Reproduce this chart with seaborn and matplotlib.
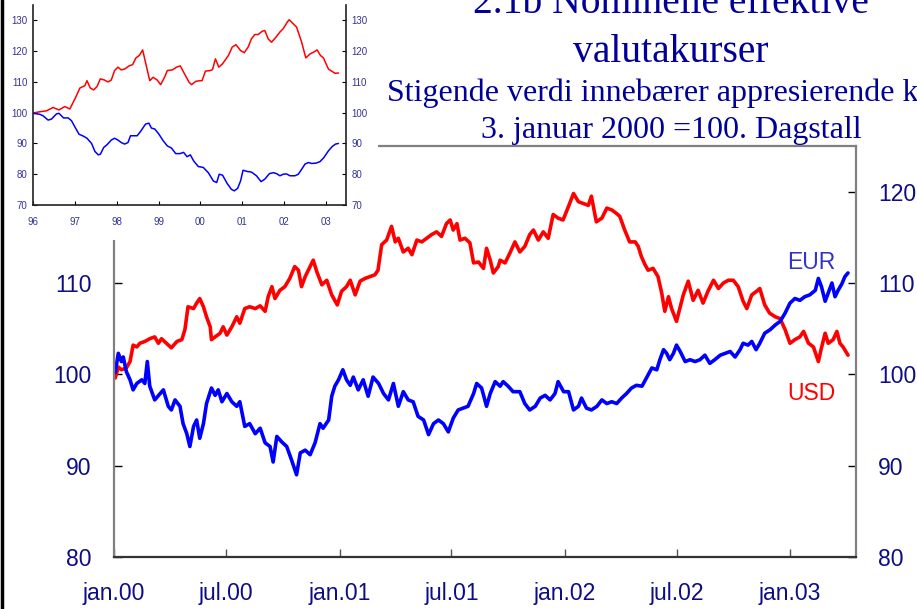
import matplotlib
matplotlib.use("Agg")
import matplotlib.pyplot as plt
from matplotlib.lines import Line2D
from matplotlib.patches import Rectangle
import seaborn as sns
import pandas as pd

# hoveddiagram: dager etter 1. januar 2000 og indeksverdier (3. jan 2000 = 100)
usd_days = [2, 7, 12, 20, 26, 31, 37, 42, 50, 58, 66, 72, 77, 85, 93, 102, 110, 115, 120, 129,
            134, 139, 145, 150, 156, 158, 164, 172, 177, 183, 191, 199, 204, 212, 220, 229, 237, 245, 250, 256,
            261, 269, 277, 285, 293, 299, 304, 310, 315, 323, 329, 337, 345, 353, 362, 369, 377, 383, 391, 399,
            407, 415, 423, 428, 434, 442, 450, 456, 461, 469, 477, 483, 491, 499, 507, 515, 523, 531, 539, 545,
            550, 556, 561, 569, 577, 583, 591, 599, 604, 610, 615, 623,
            626, 634, 642, 650, 658, 666, 674, 680, 688, 696, 704, 712, 720, 728, 737, 745, 753, 761, 769, 774,
            782, 791, 799, 807, 815, 820, 828, 836, 845, 850, 855, 861, 866, 874, 882, 888, 893, 899, 904, 912,
            918, 923, 931, 939, 947, 955, 963, 972, 980, 988, 996, 1004, 1012, 1020, 1026, 1034, 1042, 1047, 1055, 1063,
            1072, 1080, 1088, 1096, 1104, 1112, 1118, 1126, 1134, 1142, 1147, 1153, 1158, 1166, 1172, 1177, 1182, 1190]
usd_vals = [99.6, 100.8, 100.5, 100.7, 101.4, 103.2, 103.0, 103.4, 103.6, 103.9,
            104.1, 103.4, 103.9, 103.4, 102.9, 103.6, 103.8, 104.9, 107.4, 107.2,
            107.8, 108.3, 107.4, 106.3, 105.2, 103.8, 104.1, 104.5, 105.2, 104.3,
            105.2, 106.3, 105.6, 107.2, 107.4, 107.2, 107.5, 106.9, 108.5, 109.6,
            108.3, 109.2, 109.6, 110.5, 111.8, 111.4, 109.6, 110.7, 111.4, 112.5,
            111.2, 109.8, 110.3, 108.7, 107.6, 109.1, 109.6, 110.3, 108.7, 110.2,
            110.5, 110.7, 110.9, 111.4, 114.2, 114.7, 116.2, 114.5, 114.9, 113.4,
            113.8, 113.1, 114.7, 114.5, 114.9, 115.3, 115.6, 115.1, 116.5, 116.9,
            115.8, 116.5, 114.7, 114.9, 114.4, 112.2, 112.3, 111.6, 113.8, 112.5,
            111.1, 111.8,
            112.5, 112.2, 113.3, 114.5, 113.4, 114.0, 115.3, 115.8, 114.7, 115.6,
            114.9, 117.5, 117.1, 116.9, 118.4, 119.8, 118.9, 118.7, 118.5, 119.5,
            116.7, 117.1, 118.2, 118.0, 117.6, 117.3, 115.8, 114.5, 114.5, 114.0,
            112.9, 112.0, 111.4, 111.6, 110.7, 108.9, 106.9, 108.5, 107.2, 105.8,
            107.4, 108.7, 110.2, 108.1, 109.2, 107.8, 109.1, 110.3, 109.4, 110.0,
            110.3, 110.3, 109.6, 108.0, 107.2, 108.7, 109.1, 109.4, 107.6, 106.7,
            106.3, 106.1, 104.9, 103.4, 103.8, 104.1, 104.7, 103.4, 103.0, 101.4,
            102.9, 104.5, 103.4, 103.8, 104.7, 103.4, 103.0, 102.1]

eur_days = [2, 7, 12, 15, 20, 26, 31, 37, 45, 50, 54, 58, 66, 75, 80, 88, 93, 99, 107, 112,
            118, 123, 129, 134, 139, 145, 150, 158, 164, 169, 175, 183, 191, 199, 204, 212, 220, 229, 237, 245,
            253, 258, 264, 272, 280, 288, 296, 302, 310, 318, 326, 334, 339, 348, 353, 358, 364, 371, 377, 383,
            388, 396, 404, 412, 420, 429, 437, 445, 453, 461, 469, 477, 485, 493, 502, 510, 518, 526, 534, 542,
            550, 558, 566, 574, 583, 588, 596, 604, 610, 618, 626,
            631, 639, 647, 658, 666, 674, 683, 691, 699, 707, 715, 720, 729, 737, 745, 753, 758, 766, 774, 783,
            791, 799, 807, 815, 823, 831, 839, 847, 856, 864, 872, 880, 885, 891, 896, 901, 907, 912, 918, 926,
            934, 942, 950, 958, 966, 974, 983, 991, 999, 1007, 1015, 1020, 1028, 1034, 1041, 1047, 1055, 1064, 1072, 1080,
            1088, 1096, 1104, 1112, 1120, 1128, 1137, 1142, 1147, 1153, 1158, 1164, 1169, 1174, 1180, 1185, 1190]
eur_vals = [100.2, 102.3, 101.4, 101.9, 100.3, 99.4, 98.3, 99.0, 99.4, 99.0,
            101.4, 98.7, 97.2, 97.9, 98.3, 96.5, 96.1, 97.2, 96.5, 94.6,
            93.5, 92.1, 94.3, 95.0, 93.0, 94.6, 96.8, 98.5, 97.7, 98.3,
            97.0, 97.9, 97.0, 96.5, 97.0, 94.3, 94.6, 93.5, 94.1, 92.5,
            92.1, 90.4, 93.2, 92.6, 92.1, 90.6, 89.0, 91.4, 91.7, 91.2,
            92.5, 94.6, 94.1, 95.0, 97.6, 98.7, 99.4, 100.5, 99.4, 98.8,
            99.7, 98.3, 99.4, 97.6, 99.7, 99.0, 97.9, 97.2, 99.0, 96.5,
            98.1, 97.2, 97.0, 95.4, 95.0, 93.4, 94.6, 95.0, 94.6, 93.7,
            95.2, 96.1, 96.3, 96.5, 97.9, 99.0, 98.5, 96.5, 97.9, 99.2,
            98.7,
            99.2, 98.7, 98.1, 98.1, 96.8, 96.1, 96.5, 97.4, 97.7, 97.2,
            97.9, 99.2, 98.1, 98.1, 96.1, 96.5, 97.4, 96.3, 96.1, 96.5,
            97.2, 96.8, 97.0, 96.8, 97.4, 97.9, 98.5, 98.8, 98.7, 99.7,
            100.7, 100.5, 101.6, 102.7, 102.3, 101.6, 102.3, 103.2, 102.5, 101.4,
            101.6, 101.4, 101.6, 102.1, 101.2, 101.6, 102.1, 102.3, 102.5, 101.9,
            102.7, 103.4, 103.2, 103.6, 102.7, 103.4, 104.5, 104.9, 105.4, 105.8,
            106.7, 107.8, 108.3, 108.1, 108.5, 108.7, 109.2, 110.5, 109.6, 108.0,
            108.9, 110.0, 108.5, 109.2, 109.9, 110.7, 111.1]

main_xticks = ["2000-01-01", "2000-07-01", "2001-01-01", "2001-07-01",
               "2002-01-01", "2002-07-01", "2003-01-01"]
main_xlabels = ["jan.00", "jul.00", "jan.01", "jul.01", "jan.02", "jul.02", "jan.03"]
main_yticks = [80, 90, 100, 110, 120]

# innfelt: månedlige tall 1996-2003
inset_usd_x = [1996.00, 1996.16, 1996.32, 1996.48, 1996.62, 1996.76, 1996.88, 1997.02, 1997.12, 1997.24,
               1997.29, 1997.37, 1997.45, 1997.53, 1997.61, 1997.71, 1997.79, 1997.87, 1997.95, 1998.03,
               1998.11, 1998.19, 1998.31, 1998.38, 1998.46, 1998.54, 1998.62, 1998.79, 1998.87, 1998.97,
               1999.05, 1999.15, 1999.21, 1999.33, 1999.43, 1999.52, 1999.63, 1999.73, 1999.79, 1999.89,
               1999.99, 2000.04, 2000.12, 2000.23, 2000.29, 2000.36, 2000.44, 2000.53, 2000.67, 2000.76,
               2000.85, 2000.96, 2001.05, 2001.14, 2001.22, 2001.30, 2001.38, 2001.48, 2001.54, 2001.62,
               2001.70, 2001.81, 2001.90, 2001.98, 2002.08, 2002.12, 2002.22, 2002.30, 2002.42, 2002.52,
               2002.62, 2002.71, 2002.79, 2002.87, 2002.94, 2003.06, 2003.15, 2003.22, 2003.30]
inset_usd = [99.9, 100.3, 100.6, 101.7, 100.9, 102.0, 101.2, 105.0, 108.0, 108.8,
             110.4, 108.0, 107.4, 108.5, 111.0, 110.6, 110.0, 110.6, 113.7, 114.8,
             113.9, 114.2, 115.3, 115.6, 117.8, 118.6, 120.4, 110.4, 111.5, 110.6,
             109.1, 111.7, 113.7, 113.9, 114.8, 115.2, 112.4, 109.9, 109.1, 110.2,
             110.4, 110.4, 113.5, 113.7, 114.0, 117.5, 114.8, 115.9, 118.6, 121.3,
             122.1, 120.2, 119.5, 121.3, 124.0, 125.4, 125.4, 126.5, 126.7, 124.0,
             122.9, 124.6, 126.2, 127.3, 129.5, 130.2, 128.9, 127.8, 122.9, 117.8,
             119.1, 119.7, 120.4, 118.6, 117.8, 114.2, 113.4, 112.8, 112.9]
inset_eur_x = [1996.00, 1996.16, 1996.24, 1996.36, 1996.44, 1996.56, 1996.62, 1996.73, 1996.84, 1996.92,
               1997.00, 1997.10, 1997.20, 1997.29, 1997.40, 1997.48, 1997.56, 1997.61, 1997.69, 1997.77,
               1997.87, 1997.95, 1998.03, 1998.11, 1998.19, 1998.27, 1998.33, 1998.41, 1998.49, 1998.57,
               1998.69, 1998.77, 1998.83, 1998.91, 1999.01, 1999.11, 1999.21, 1999.31, 1999.41, 1999.51,
               1999.60, 1999.68, 1999.76, 1999.84, 1999.95, 2000.07, 2000.19, 2000.31, 2000.39, 2000.45,
               2000.53, 2000.64, 2000.74, 2000.81, 2000.89, 2000.96, 2001.02, 2001.12, 2001.22, 2001.34,
               2001.45, 2001.54, 2001.65, 2001.74, 2001.82, 2001.90, 2001.98, 2002.06, 2002.14, 2002.26,
               2002.34, 2002.42, 2002.50, 2002.58, 2002.66, 2002.76, 2002.86, 2002.95, 2003.06, 2003.15,
               2003.23, 2003.30]
inset_eur = [99.8, 99.5, 99.0, 97.6, 97.9, 99.6, 99.8, 98.3, 98.3, 97.4,
             95.4, 93.0, 92.4, 91.7, 90.0, 87.4, 86.3, 86.5, 88.7, 89.6,
             91.1, 91.7, 91.1, 90.3, 89.8, 90.3, 92.5, 92.5, 92.5, 93.9,
             96.3, 96.6, 95.0, 94.7, 93.0, 90.9, 89.2, 88.5, 86.7, 86.7,
             87.1, 85.7, 86.3, 84.3, 82.5, 82.2, 80.5, 77.8, 77.3, 80.0,
             79.7, 77.0, 75.1, 74.6, 75.4, 77.8, 81.3, 80.9, 80.7, 79.5,
             77.6, 78.4, 80.2, 80.5, 80.2, 79.5, 80.0, 80.1, 79.5, 79.5,
             80.0, 81.6, 83.3, 83.8, 83.5, 83.6, 84.1, 85.4, 87.6, 89.0,
             89.8, 90.0]
inset_xticks = [1996, 1997, 1998, 1999, 2000, 2001, 2002, 2003]
inset_xlabels = ["96", "97", "98", "99", "00", "01", "02", "03"]
inset_yticks = [70, 80, 90, 100, 110, 120, 130]

title_lines = ["2.1b Nominelle effektive", "valutakurser",
               "Stigende verdi innebærer appresierende k", "3. januar 2000 =100. Dagstall"]

NAVY = "#0d0d85"
RED = "#ff0000"
BLUE = "#0000ff"

sns.set_theme(style="white")
plt.rcParams["font.family"] = ["Liberation Sans", "DejaVu Sans"]

W, H = 917, 609
fig = plt.figure(figsize=(W / 100, H / 100), dpi=100)
fig.patch.set_facecolor("white")

start = pd.Timestamp("2000-01-01")
usd_df = pd.DataFrame({"dato": start + pd.to_timedelta(usd_days, unit="D"), "verdi": usd_vals})
eur_df = pd.DataFrame({"dato": start + pd.to_timedelta(eur_days, unit="D"), "verdi": eur_vals})

# hovedaksen
ax = fig.add_axes([114 / W, 1 - 557 / H, 742 / W, 411 / H])
ax.set_zorder(0)
sns.lineplot(data=usd_df, x="dato", y="verdi", color=RED, lw=2.6, ax=ax)
sns.lineplot(data=eur_df, x="dato", y="verdi", color=BLUE, lw=2.6, ax=ax)
ax.set_xlim(start, start + pd.Timedelta(days=1203))
ax.set_ylim(80, 125)
ax.set_xlabel("")
ax.set_ylabel("")
ax.set_xticks(pd.to_datetime(main_xticks))
ax.set_xticklabels(main_xlabels)
ax.set_yticks(main_yticks)
ax.tick_params(axis="y", which="both", direction="in", length=6, width=1, color="black",
               left=True, right=True, labelleft=True, labelright=True,
               labelsize=16.5, labelcolor=NAVY, pad=16)
ax.tick_params(axis="x", direction="in", length=6, width=1, color="#555555",
               bottom=True, labelsize=16.5, labelcolor=NAVY, pad=18)
for s in ax.spines.values():
    s.set_visible(True)
    s.set_color("#808080")
    s.set_linewidth(1.6)
ax.spines["bottom"].set_color("#333333")

ax.text(start + pd.Timedelta(days=1130), 111.5, "EUR", color="#3333cc", fontsize=16.5,
        ha="center", va="baseline")
ax.text(start + pd.Timedelta(days=1130), 97.2, "USD", color=RED, fontsize=16.5,
        ha="center", va="baseline")

# hvit bakgrunn for innfelt figur
fig.add_artist(Rectangle((0, 1 - 240 / H), 378 / W, 240 / H, transform=fig.transFigure,
                         facecolor="white", edgecolor="none", zorder=2))

# innfelt figur
axi = fig.add_axes([33 / W, 1 - 205 / H, 313 / W, 200 / H])
axi.set_zorder(3)
sns.lineplot(x=inset_usd_x, y=inset_usd, color=RED, lw=1.1, ax=axi)
sns.lineplot(x=inset_eur_x, y=inset_eur, color=BLUE, lw=1.1, ax=axi)
axi.set_xlim(1996, 2003.48)
axi.set_ylim(70, 135)
axi.set_xticks(inset_xticks)
axi.set_xticklabels(inset_xlabels)
axi.set_yticks(inset_yticks)
axi.tick_params(axis="y", direction="in", length=3, width=0.8, color="black",
                left=True, right=True, labelleft=True, labelright=True,
                labelsize=7, labelcolor="#333399", pad=4)
axi.tick_params(axis="x", direction="in", length=3, width=0.8, color="black",
                bottom=True, labelsize=7, labelcolor="#333399", pad=9)
for side in ["left", "right", "bottom"]:
    axi.spines[side].set_visible(True)
    axi.spines[side].set_color("#222222")
    axi.spines[side].set_linewidth(1.2)
axi.spines["top"].set_visible(False)

# tittel
serif = ["Liberation Serif", "DejaVu Serif"]
TX = 671 / W
fig.text(TX, 1 - 13 / H, title_lines[0], family=serif, fontsize=28.5, color="#000099",
         ha="center", va="baseline")
fig.text(TX, 1 - 62 / H, title_lines[1], family=serif, fontsize=28.5, color="#000099",
         ha="center", va="baseline")
fig.text(387 / W, 1 - 101 / H, title_lines[2], family=serif, fontsize=23, color="#000099",
         ha="left", va="baseline")
fig.text(TX, 1 - 138 / H, title_lines[3], family=serif, fontsize=23, color="#000099",
         ha="center", va="baseline")

# svart kant til venstre
fig.add_artist(Line2D([1.5 / W, 1.5 / W], [0, 1], transform=fig.transFigure,
                      color="black", lw=2.5, zorder=5))

fig.savefig("out.png", dpi=100)
